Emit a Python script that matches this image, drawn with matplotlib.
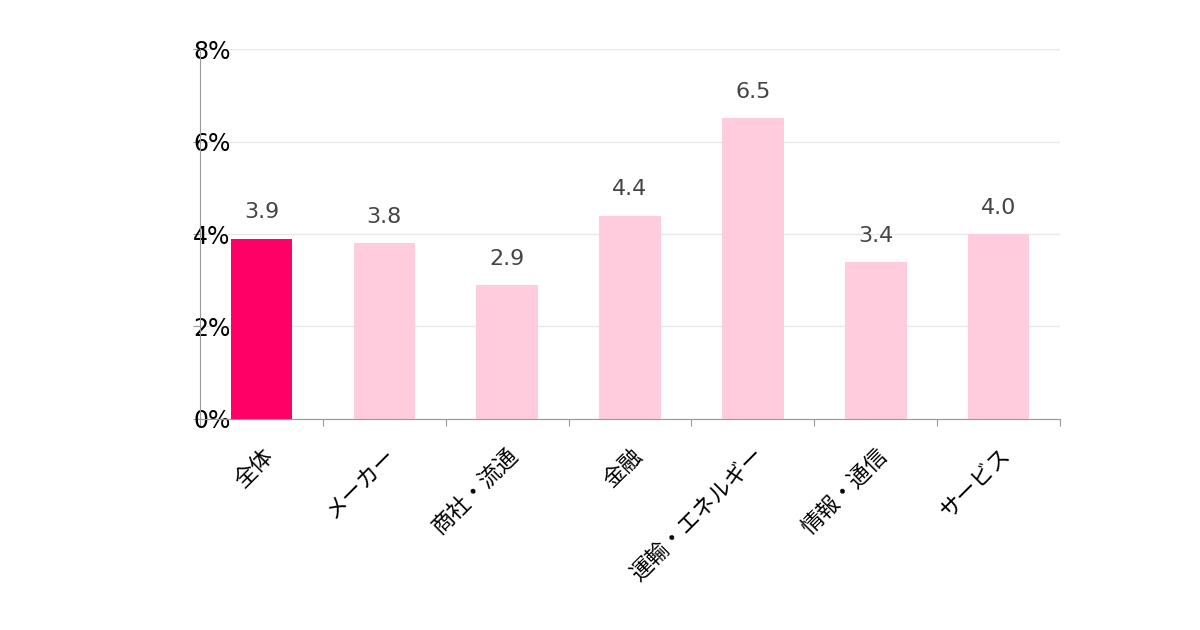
import matplotlib
matplotlib.use("Agg")
import matplotlib.pyplot as plt
import matplotlib.transforms as mtransforms
import numpy as np

plt.rcParams['font.family'] = ['DejaVu Sans', 'Noto Sans CJK JP']

categories = ["全体", "メーカー", "商社・流通", "金融", "運輸・エネルギー", "情報・通信", "サービス"]
values = [3.9, 3.8, 2.9, 4.4, 6.5, 3.4, 4.0]
colors = ["#ff0066"] + ["#ffccdd"] * 6
yticks = [0, 2, 4, 6, 8]

fig = plt.figure(figsize=(12, 6.3), dpi=100)
ax = fig.add_axes([0.1667, 0.335, 0.7167, 0.587])
x = np.arange(len(categories))
ax.bar(x, values, width=0.5, color=colors, zorder=2)
for xi, v in zip(x, values):
    ax.text(xi, v + 0.35, f"{v:.1f}", ha="center", va="bottom", fontsize=16, color="#444444")
ax.set_xlim(-0.5, len(categories) - 0.5)
ax.set_ylim(0, 8)
ax.set_yticks(yticks)
ax.set_yticklabels([f"{t}%" for t in yticks], fontsize=17)
ax.yaxis.grid(True, color="#e8e8e8", lw=1, zorder=0)
ax.set_xticks(np.arange(len(categories) + 1) - 0.5, minor=False)
ax.set_xticklabels([])
ax.set_xticks(x, minor=True)
ax.set_xticklabels(categories, minor=True, rotation=45, ha="right", rotation_mode="anchor",
                   fontsize=16, family=['Noto Sans CJK JP', 'DejaVu Sans'])
off = mtransforms.ScaledTranslation(-14 / 100, -6 / 100, fig.dpi_scale_trans)
for lbl in ax.get_xticklabels(minor=True):
    lbl.set_transform(lbl.get_transform() + off)
ax.tick_params(axis="x", which="minor", length=0, pad=18)
ax.tick_params(axis="x", which="major", length=5, color="#999999")
ax.tick_params(axis="y", length=5, color="#999999", pad=30)
for lbl in ax.get_yticklabels():
    lbl.set_horizontalalignment("left")
off2 = mtransforms.ScaledTranslation(-88 / 100, 0, fig.dpi_scale_trans)
for lbl in ax.get_yticklabels():
    lbl.set_transform(ax.get_yaxis_transform() + mtransforms.ScaledTranslation(0, 0, fig.dpi_scale_trans))
    lbl.set_x(0)
    lbl.set_transform(lbl.get_transform() + off2)
ax.tick_params(axis="y", pad=0)
for s in ["top", "right"]:
    ax.spines[s].set_visible(False)
for s in ["left", "bottom"]:
    ax.spines[s].set_color("#999999")
fig.savefig("out.png", dpi=100)
